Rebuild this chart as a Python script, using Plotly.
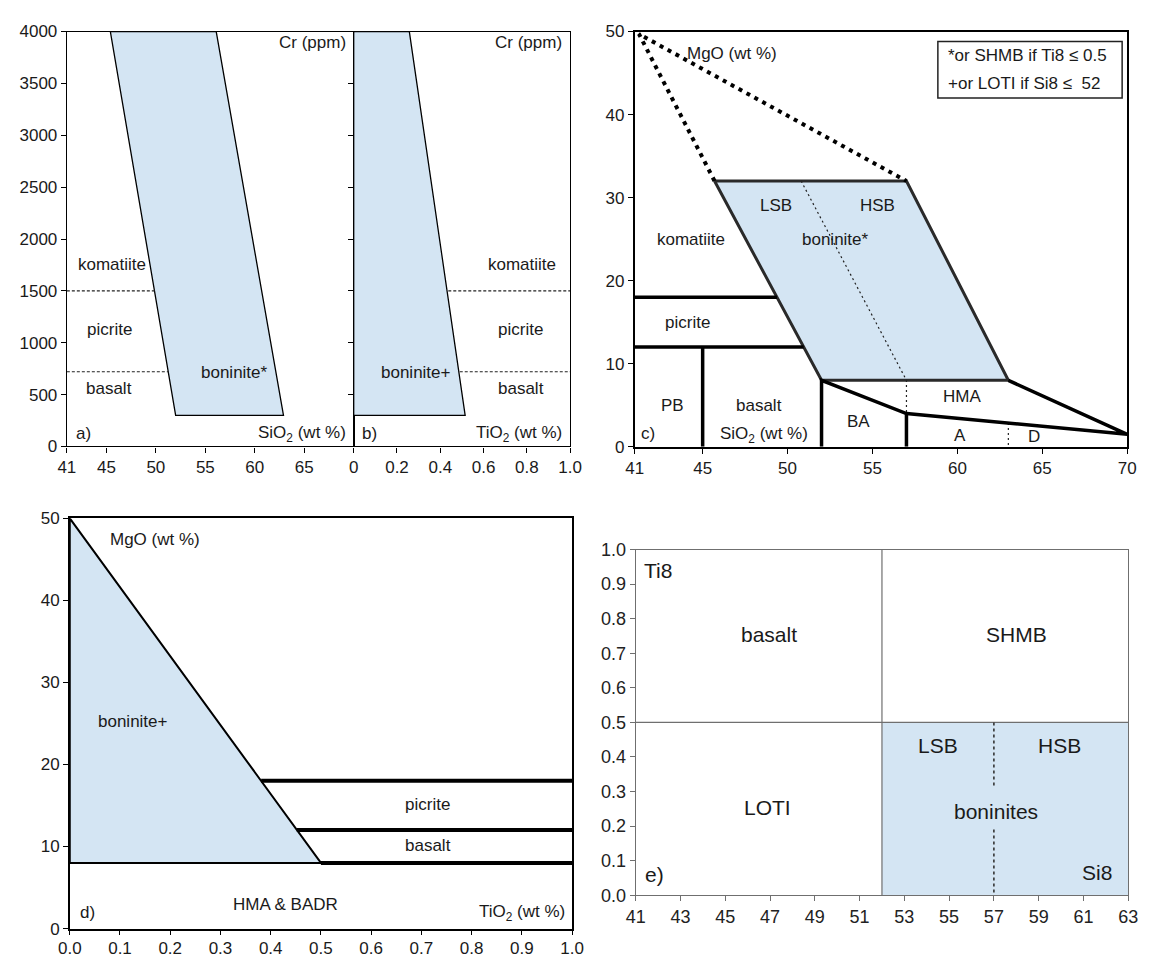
import plotly.graph_objects as go

FONT = "Arial, 'Liberation Sans', sans-serif"
BLUE = "#d4e5f3"
W, H = 1150, 965

# ---------------- Panel a : Cr vs SiO2 ----------------
a_bon_sio2 = [45.4, 56.1, 62.9, 52.0, 45.4]
a_bon_cr = [4000, 4000, 300, 300, 4000]
a_dash_sio2 = [41, 49.9, None, 41, 51.3]
a_dash_cr = [1500, 1500, None, 720, 720]
a_labels = ["komatiite", "picrite", "basalt", "boninite*"]
a_lab_x = [45.6, 45.3, 45.3, 57.9]
a_lab_y = [1753, 1123, 557, 715]
a_xticks = [41, 45, 50, 55, 60, 65]
cr_ticks = [0, 500, 1000, 1500, 2000, 2500, 3000, 3500, 4000]

# ---------------- Panel b : Cr vs TiO2 ----------------
b_bon_tio2 = [0, 0.257, 0.515, 0, 0]
b_bon_cr = [4000, 4000, 300, 300, 4000]
b_dash_tio2 = [0.437, 1, None, 0.49, 1]
b_dash_cr = [1500, 1500, None, 720, 720]
b_labels = ["komatiite", "picrite", "basalt", "boninite+"]
b_lab_x = [0.78, 0.773, 0.773, 0.286]
b_lab_y = [1753, 1123, 557, 715]
b_xticks = [0, 0.2, 0.4, 0.6, 0.8, 1.0]
b_xticktext = ["0", "0.2", "0.4", "0.6", "0.8", "1.0"]

# ---------------- Panel c : MgO vs SiO2 ----------------
c_bon_sio2 = [45.7, 57.0, 63.0, 52.0, 45.7]
c_bon_mgo = [32, 32, 8, 8, 32]
c_dots_sio2 = [45.7, 41.25, 57.0]
c_dots_mgo = [32, 49.7, 32]
c_lines_sio2 = [41, 49.38, None, 41, 50.95, None, 45, 45, None, 52, 52, 57, 70, 63,
                None, 57, 57]
c_lines_mgo = [18, 18, None, 12, 12, None, 0, 12, None, 0, 8, 4, 1.5, 8,
               None, 0, 4]
c_fine_sio2 = [50.8, 57.0, 57.0, None, 63.0, 63.0]
c_fine_mgo = [32, 8, 4, None, 2.85, 0]
c_labels = ["MgO (wt %)", "LSB", "HSB", "boninite*", "komatiite", "picrite", "PB",
            "basalt", "SiO<sub>2</sub> (wt %)", "c)", "BA", "HMA", "A", "D"]
c_lab_x = [46.7, 49.3, 55.3, 52.8, 44.3, 44.1, 43.2, 48.3, 48.6, 41.8, 54.2, 60.3, 60.15, 64.5]
c_lab_y = [47.3, 29.0, 29.0, 25.0, 25.0, 15.0, 5.0, 5.0, 1.4, 1.6, 3.05, 6.0, 1.4, 1.2]
c_box_sio2 = [58.85, 69.7]
c_box_mgo = [42.0, 48.8]
c_notes = ["*or SHMB if Ti8 \u2264 0.5", "+or LOTI if Si8 \u2264  52"]
c_note_y = [47.15, 43.8]
c_xticks = [41, 45, 50, 55, 60, 65, 70]
mgo_ticks = [0, 10, 20, 30, 40, 50]

# ---------------- Panel d : MgO vs TiO2 ----------------
d_bon_tio2 = [0, 0.5, 0, 0]
d_bon_mgo = [50, 8, 8, 50]
d_lines_tio2 = [0.381, 1, None, 0.452, 1, None, 0.5, 1]
d_lines_mgo = [18, 18, None, 12, 12, None, 8, 8]
d_labels = ["MgO (wt %)", "boninite+", "picrite", "basalt", "HMA & BADR", "d)"]
d_lab_x = [0.169, 0.126, 0.713, 0.713, 0.43, 0.036]
d_lab_y = [47.4, 25.2, 15.1, 10.1, 2.9, 2.0]
d_xticks = [0, 0.1, 0.2, 0.3, 0.4, 0.5, 0.6, 0.7, 0.8, 0.9, 1.0]

# ---------------- Panel e : Ti8 vs Si8 ----------------
e_bon_si8 = [52, 63, 63, 52, 52]
e_bon_ti8 = [0, 0, 0.5, 0.5, 0]
e_grid_si8 = [52, 52, None, 41, 63]
e_grid_ti8 = [0, 1, None, 0.5, 0.5]
e_dot_si8 = [57, 57, None, 57, 57]
e_dot_ti8 = [0.5, 0.31, None, 0.19, 0]
e_labels = ["Ti8", "basalt", "SHMB", "LSB", "HSB", "LOTI", "boninites", "e)", "Si8"]
e_lab_x = [42.0, 46.97, 58.0, 54.5, 59.95, 46.9, 57.08, 41.85, 61.6]
e_lab_y = [0.94, 0.754, 0.754, 0.433, 0.433, 0.255, 0.241, 0.061, 0.066]
e_xticks = [41, 43, 45, 47, 49, 51, 53, 55, 57, 59, 61, 63]
e_yticks = [0, 0.1, 0.2, 0.3, 0.4, 0.5, 0.6, 0.7, 0.8, 0.9, 1.0]


def dom_x(p0, p1):
    return [p0 / W, p1 / W]


def dom_y(top, bottom):
    return [1 - bottom / H, 1 - top / H]


def axis(domain, rng, tickvals, anchor, ticktext=None, color="black", lw=1.2,
         labels=True, size=17, fcolor="#1a1a1a", standoff=None):
    d = dict(domain=domain, range=rng, tickmode="array", tickvals=tickvals,
             ticks="outside", ticklen=5, tickwidth=1, tickcolor=color,
             showline=True, linecolor=color, linewidth=lw, mirror=True,
             showgrid=False, zeroline=False, anchor=anchor,
             showticklabels=labels,
             tickfont=dict(size=size, color=fcolor, family=FONT))
    if ticktext is not None:
        d["ticktext"] = ticktext
    if standoff is not None:
        d["ticklabelstandoff"] = standoff
    return d


fig = go.Figure()


def poly(x, y, xa, ya, lc, lw):
    fig.add_trace(go.Scatter(x=x, y=y, xaxis=xa, yaxis=ya, mode="lines", fill="toself",
                             fillcolor=BLUE, line=dict(color=lc, width=lw),
                             hoverinfo="skip", showlegend=False))


def line(x, y, xa, ya, color="black", width=1, dash="solid"):
    fig.add_trace(go.Scatter(x=x, y=y, xaxis=xa, yaxis=ya, mode="lines",
                             line=dict(color=color, width=width, dash=dash),
                             connectgaps=False, hoverinfo="skip", showlegend=False))


# panel a
poly(a_bon_sio2, a_bon_cr, "x", "y", "black", 1.3)
line(a_dash_sio2, a_dash_cr, "x", "y", "#222", 1.2, "3px,2px")
# panel b
poly(b_bon_tio2, b_bon_cr, "x2", "y2", "black", 1.3)
line(b_dash_tio2, b_dash_cr, "x2", "y2", "#222", 1.2, "3px,2px")
# panel c
poly(c_bon_sio2, c_bon_mgo, "x3", "y3", "#2a2a2a", 3)
line(c_dots_sio2, c_dots_mgo, "x3", "y3", "black", 4, "4px,5px")
line(c_fine_sio2, c_fine_mgo, "x3", "y3", "#222", 1.2, "2px,3px")
line(c_lines_sio2, c_lines_mgo, "x3", "y3", "black", 3.5)
# panel d
poly(d_bon_tio2, d_bon_mgo, "x4", "y4", "black", 2)
line(d_lines_tio2, d_lines_mgo, "x4", "y4", "black", 4)
# panel e
poly(e_bon_si8, e_bon_ti8, "x5", "y5", "rgba(0,0,0,0)", 0)
line(e_grid_si8, e_grid_ti8, "x5", "y5", "#6f6f6f", 1.2)
line(e_dot_si8, e_dot_ti8, "x5", "y5", "#333", 1.6, "3px,3px")

ann = []


def txt(x, y, s, xr, yr, size=17, xanchor="center"):
    ann.append(dict(x=x, y=y, xref=xr, yref=yr, text=s, showarrow=False,
                    xanchor=xanchor, yanchor="middle",
                    font=dict(size=size, color="#1a1a1a", family=FONT)))


for s, x, y in zip(a_labels, a_lab_x, a_lab_y):
    txt(x, y, s, "x", "y")
txt(69.4, 3896, "Cr (ppm)", "x", "y", xanchor="right")
txt(69.4, 123, "SiO<sub>2</sub> (wt %)", "x", "y", xanchor="right")
txt(42.7, 123, "a)", "x", "y")

for s, x, y in zip(b_labels, b_lab_x, b_lab_y):
    txt(x, y, s, "x2", "y2")
txt(0.97, 3896, "Cr (ppm)", "x2", "y2", xanchor="right")
txt(0.97, 123, "TiO<sub>2</sub> (wt %)", "x2", "y2", xanchor="right")
txt(0.072, 123, "b)", "x2", "y2")

for s, x, y in zip(c_labels, c_lab_x, c_lab_y):
    txt(x, y, s, "x3", "y3")
for s, y in zip(c_notes, c_note_y):
    txt(c_box_sio2[0] + 0.5, y, s, "x3", "y3", xanchor="left")

for s, x, y in zip(d_labels, d_lab_x, d_lab_y):
    txt(x, y, s, "x4", "y4")
txt(0.99, 1.9, "TiO<sub>2</sub> (wt %)", "x4", "y4", xanchor="right")

for s, x, y in zip(e_labels, e_lab_x, e_lab_y):
    txt(x, y, s, "x5", "y5", size=21)

shapes = [dict(type="rect", xref="x3", yref="y3", x0=c_box_sio2[0], x1=c_box_sio2[1],
               y0=c_box_mgo[0], y1=c_box_mgo[1], line=dict(color="#222", width=1.5),
               fillcolor="white", layer="below")]

fig.update_layout(
    width=W, height=H, margin=dict(l=0, r=0, t=0, b=0),
    paper_bgcolor="white", plot_bgcolor="rgba(0,0,0,0)",
    font=dict(family=FONT, size=17, color="#1a1a1a"),
    showlegend=False,
    annotations=ann, shapes=shapes,
    xaxis=axis(dom_x(56, 349), [41, 70], a_xticks, "y"),
    yaxis=axis(dom_y(22, 445.7), [0, 4000], cr_ticks, "x"),
    xaxis2=axis(dom_x(349, 570), [0, 1], b_xticks, "y2", ticktext=b_xticktext),
    yaxis2=axis(dom_y(22, 445.7), [0, 4000], cr_ticks, "x2", labels=False),
    xaxis3=axis(dom_x(636, 1139), [41, 70], c_xticks, "y3", lw=1.6),
    yaxis3=axis(dom_y(22, 446), [0, 50], mgo_ticks, "x3", lw=1.6),
    xaxis4=axis(dom_x(59, 572), [0, 1], d_xticks, "y4",
                ticktext=["%.1f" % v for v in d_xticks], lw=1.5, standoff=-2),
    yaxis4=axis(dom_y(519, 938), [0, 50], mgo_ticks, "x4", lw=1.5),
    xaxis5=axis(dom_x(637, 1140), [41, 63], e_xticks, "y5", color="#6f6f6f",
                size=18, fcolor="#222"),
    yaxis5=axis(dom_y(551, 904), [0, 1], e_yticks, "x5", color="#6f6f6f",
                ticktext=["%.1f" % v for v in e_yticks], size=18, fcolor="#222"),
)

fig.write_html("out.html", config={"displayModeBar": False},
               post_script="document.body.style.margin='0px';document.body.style.padding='0px';")
